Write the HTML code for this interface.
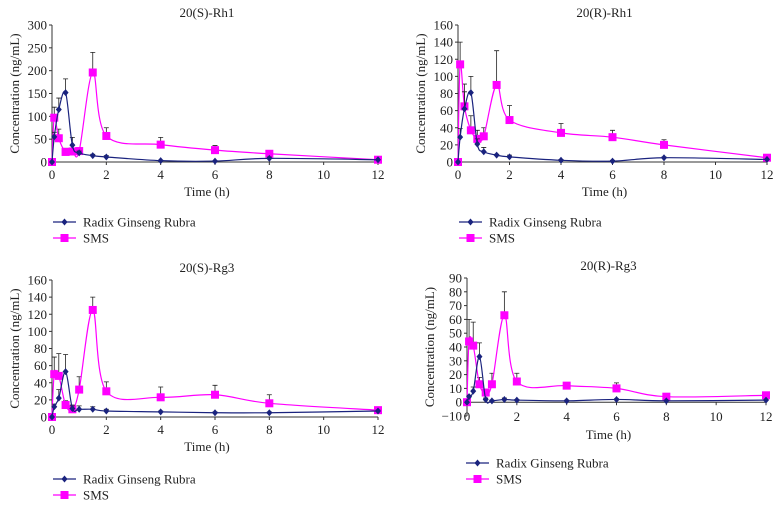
<!DOCTYPE html>
<html><head><meta charset="utf-8"><style>
body{margin:0;background:#fff;}
svg{display:block;font-family:"Liberation Serif",serif;}
</style></head><body>
<svg id="c" width="780" height="507"></svg>
<script>
const times=[0,0.083,0.25,0.5,0.75,1,1.5,2,4,6,8,12];
const xTicks=[0,2,4,6,8,10,12];
const titles=["20(S)-Rh1","20(R)-Rh1","20(S)-Rg3","20(R)-Rg3"];
const rgrS_Rh1=[0,55,115,152,37,20,14,11,3,2,8,5];
const smsS_Rh1=[0,97,52,22,23,24,196,57,38,26,18,5];
const rgrErrS_Rh1=[0,10,25,30,17,4,3,3,1,1,3,0];
const smsErrS_Rh1=[0,23,20,8,5,5,44,18,16,10,4,0];
const rgrR_Rh1=[0,29,62,81,21,12,8,6,2,1,5,3];
const smsR_Rh1=[0,114,65,37,27,30,90,49,34,29,20,5];
const rgrErrR_Rh1=[0,10,20,19,6,5,1,2,1,1,1,0];
const smsErrR_Rh1=[0,26,26,17,10,10,40,17,11,8,6,0];
const rgrS_Rg3=[0,12,22,53,10,9,9,7,6,5,5,7];
const smsS_Rg3=[0,50,48,14,9,32,125,30,23,26,16,8];
const rgrErrS_Rg3=[0,3,10,20,3,4,3,2,1,1,1,1];
const smsErrS_Rg3=[0,20,26,5,5,15,15,11,12,11,10,0];
const rgrR_Rg3=[0,4,8,33,2,1,2,1.5,1,2,1,1.5];
const smsR_Rg3=[0,44,41,13,7,13,63,15,12,10,4,5];
const rgrErrR_Rg3=[0,1,3,10,1,0.5,1,0.5,0.5,0.5,0.5,0.5];
const smsErrR_Rg3=[0,16,17,5,2,8,17,6,2,4,0,0];
const yTicks1=[0,50,100,150,200,250,300];
const yTicks2=[0,20,40,60,80,100,120,140,160];
const yTicks3=[0,20,40,60,80,100,120,140,160];
const yTicks4=[-10,0,10,20,30,40,50,60,70,80,90];

const svg=document.getElementById('c');
const NS="http://www.w3.org/2000/svg";
function mk(tag,at,parent){const e=document.createElementNS(NS,tag);for(const k in at)e.setAttribute(k,at[k]);(parent||svg).appendChild(e);return e;}
function tx(s,at,parent){const e=mk('text',at,parent);e.textContent=s;return e;}

const panels=[
 {x0:52,x1:378,yb:162,yt:25,ticks:yTicks1,rgr:rgrS_Rh1,sms:smsS_Rh1,er:rgrErrS_Rh1,es:smsErrS_Rh1,legX:53,legY:222,timeY:196},
 {x0:458,x1:767,yb:162,yt:25,ticks:yTicks2,rgr:rgrR_Rh1,sms:smsR_Rh1,er:rgrErrR_Rh1,es:smsErrR_Rh1,legX:459,legY:222,timeY:196},
 {x0:52,x1:378,yb:417,yt:280,ticks:yTicks3,rgr:rgrS_Rg3,sms:smsS_Rg3,er:rgrErrS_Rg3,es:smsErrS_Rg3,legX:53,legY:479,timeY:451},
 {x0:467,x1:766,yb:416,yt:278,ticks:yTicks4,rgr:rgrR_Rg3,sms:smsR_Rg3,er:rgrErrR_Rg3,es:smsErrR_Rg3,legX:466,legY:463,timeY:439}
];
function spline(pts){
 let d=`M${pts[0][0]},${pts[0][1]}`;
 for(let i=0;i<pts.length-1;i++){
  const p0=pts[Math.max(0,i-1)],p1=pts[i],p2=pts[i+1],p3=pts[Math.min(pts.length-1,i+2)];
  const t=0.5/3;
  d+=` C${p1[0]+(p2[0]-p0[0])*t},${p1[1]+(p2[1]-p0[1])*t} ${p2[0]-(p3[0]-p1[0])*t},${p2[1]-(p3[1]-p1[1])*t} ${p2[0]},${p2[1]}`;
 }
 return d;
}
panels.forEach((p,pi)=>{
 const g=mk('g',{});
 
 
 const ymin=p.ticks[0],ymax=p.ticks[p.ticks.length-1];
 const X=v=>p.x0+(v-0)/12*(p.x1-p.x0);
 const Y=v=>p.yb-(v-ymin)/(ymax-ymin)*(p.yb-p.yt);
 const y0=Y(0);
 const title=tx(titles[pi],{x:(p.x0+p.x1)/2-8,y:p.yt-8,'text-anchor':'middle','font-size':13,fill:'#222'},g);
 
 
 const ya=mk('line',{x1:p.x0,x2:p.x0,y1:p.yt,y2:p.yb,stroke:'#333','stroke-width':1},g);
 
 
 const xa=mk('line',{x1:p.x0,x2:p.x1,y1:y0,y2:y0,stroke:'#333','stroke-width':1},g);
 
 
 p.ticks.forEach(t=>{
  mk('line',{x1:p.x0-3,x2:p.x0,y1:Y(t),y2:Y(t),stroke:'#333'},g);
  const l=tx(t<0?'−'+(-t):String(t),{x:p.x0-5,y:Y(t)+4.5,'text-anchor':'end','font-size':13,fill:'#222'},g);
  
  
 });
 xTicks.forEach(t=>{
  mk('line',{x1:X(t),x2:X(t),y1:y0,y2:y0+3,stroke:'#333'},g);
  const l=tx(String(t),{x:X(t),y:(pi==3?p.yb+5:y0+17),'text-anchor':'middle','font-size':13,fill:'#222'},g);
  
  
 });
 const xt=tx('Time (h)',{x:(p.x0+p.x1)/2-8,y:p.timeY,'text-anchor':'middle','font-size':13,fill:'#222'},g);
 
 
 const yt=tx('Concentration (ng/mL)',{x:0,y:0,'text-anchor':'middle','font-size':13,fill:'#222',transform:`translate(${p.x0-33},${(p.yt+p.yb)/2}) rotate(-90)`},g);
 
 
 const series=[{v:p.sms,e:p.es,c:'#ff00ff',sq:true,n:'sms'},{v:p.rgr,e:p.er,c:'#1a237e',sq:false,n:'radix-ginseng-rubra'}];
 series.forEach(s=>{
  s.v.forEach((v,i)=>{ if(s.e[i]>0){
   const eb=mk('path',{d:`M${X(times[i])},${Y(v)}V${Y(v+s.e[i])}M${X(times[i])-2.5},${Y(v+s.e[i])}H${X(times[i])+2.5}`,stroke:'#222','stroke-width':0.8,fill:'none'},g);
   
   
  }});
  const pts=s.v.map((v,i)=>[X(times[i]),Y(v)]);
  const ln=mk('path',{d:spline(pts),stroke:s.c,'stroke-width':1.2,fill:'none'},g);
  
  
  pts.forEach(q=>{
   const m=s.sq?mk('rect',{x:q[0]-4,y:q[1]-4,width:8,height:8,fill:s.c},g):mk('path',{d:`M${q[0]},${q[1]-3.5}L${q[0]+3},${q[1]}L${q[0]},${q[1]+3.5}L${q[0]-3},${q[1]}Z`,fill:s.c},g);
   
   
  });
 });
 const lg=mk('g',{},g);
 
 
 mk('line',{x1:p.legX,x2:p.legX+23,y1:p.legY,y2:p.legY,stroke:'#1a237e','stroke-width':1.2},lg);
 mk('path',{d:`M${p.legX+11.5},${p.legY-3.5}l3,3.5l-3,3.5l-3,-3.5Z`,fill:'#1a237e'},lg);
 const t1=tx('Radix Ginseng Rubra',{x:p.legX+30,y:p.legY+4.5,'font-size':13,fill:'#222'},lg);
 
 
 mk('line',{x1:p.legX,x2:p.legX+23,y1:p.legY+16,y2:p.legY+16,stroke:'#ff00ff','stroke-width':1.2},lg);
 mk('rect',{x:p.legX+7.5,y:p.legY+12,width:8,height:8,fill:'#ff00ff'},lg);
 const t2=tx('SMS',{x:p.legX+30,y:p.legY+20.5,'font-size':13,fill:'#222'},lg);
 
 
});
</script>
</body></html>
